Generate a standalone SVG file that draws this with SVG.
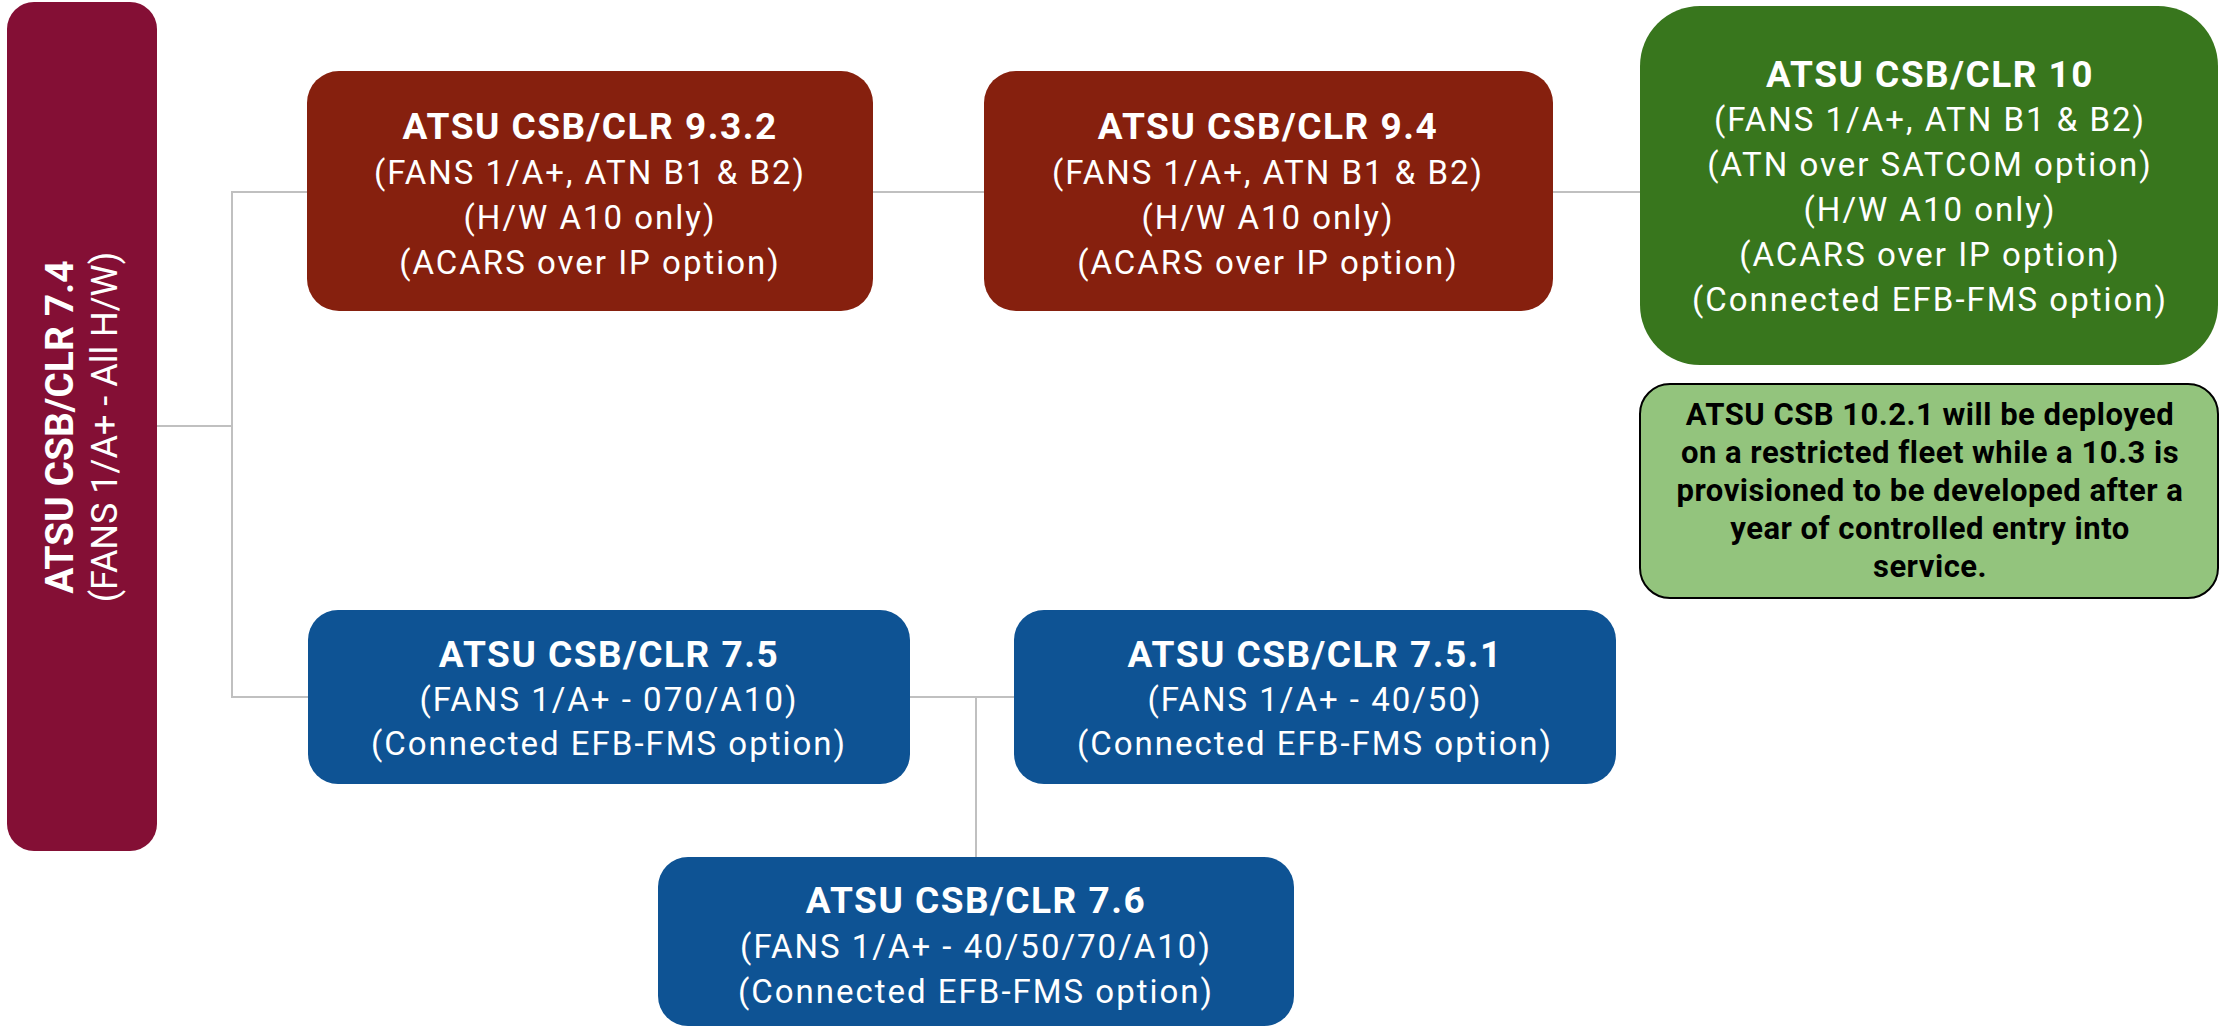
<svg xmlns="http://www.w3.org/2000/svg" width="2220" height="1028" viewBox="0 0 2220 1028">
<style>
.t{font-family:Roboto,"Liberation Sans",sans-serif;fill:#fff;text-anchor:middle}
.b{font-weight:bold;font-size:37px;letter-spacing:1.5px}
.r{font-size:33px;letter-spacing:2px}
.n{font-family:Roboto,"Liberation Sans",sans-serif;fill:#000;text-anchor:middle;font-weight:bold;font-size:31px;letter-spacing:0.5px}
.c{fill:none;stroke:#c0c0c0;stroke-width:2}
</style>
<rect width="2220" height="1028" fill="#fff"/>
<g id="connectors">
<polyline class="c" points="157,426 232,426"/>
<polyline class="c" points="307,192 232,192 232,697 308,697"/>
<line class="c" x1="873" y1="192" x2="984" y2="192"/>
<line class="c" x1="1553" y1="192" x2="1640" y2="192"/>
<line class="c" x1="910" y1="697" x2="1014" y2="697"/>
<line class="c" x1="976" y1="697" x2="976" y2="857"/>
</g>
<g id="node-7-4">
<rect x="7" y="2" width="150" height="849" rx="27" fill="#840f35"/>
<g transform="translate(0,427)">
<text class="t" transform="translate(73,0) rotate(-90)" font-weight="bold" font-size="39">ATSU CSB/CLR 7.4</text>
<text class="t" transform="translate(117,0) rotate(-90)" font-size="36">(FANS 1/A+ - All H/W)</text>
</g>
</g>
<g id="node-9-3-2">
<rect x="307" y="71" width="566" height="240" rx="32" fill="#86200e"/>
<text class="t b" x="590" y="139">ATSU CSB/CLR 9.3.2</text>
<text class="t r" x="590" y="184">(FANS 1/A+, ATN B1 &amp; B2)</text>
<text class="t r" x="590" y="229">(H/W A10 only)</text>
<text class="t r" x="590" y="274">(ACARS over IP option)</text>
</g>
<g id="node-9-4">
<rect x="984" y="71" width="569" height="240" rx="32" fill="#86200e"/>
<text class="t b" x="1268" y="139">ATSU CSB/CLR 9.4</text>
<text class="t r" x="1268" y="184">(FANS 1/A+, ATN B1 &amp; B2)</text>
<text class="t r" x="1268" y="229">(H/W A10 only)</text>
<text class="t r" x="1268" y="274">(ACARS over IP option)</text>
</g>
<g id="node-10">
<rect x="1640" y="6" width="578" height="359" rx="60" fill="#38761d"/>
<text class="t b" x="1930" y="87">ATSU CSB/CLR 10</text>
<text class="t r" x="1930" y="131">(FANS 1/A+, ATN B1 &amp; B2)</text>
<text class="t r" x="1930" y="176">(ATN over SATCOM option)</text>
<text class="t r" x="1930" y="221">(H/W A10 only)</text>
<text class="t r" x="1930" y="266">(ACARS over IP option)</text>
<text class="t r" x="1930" y="311">(Connected EFB-FMS option)</text>
</g>
<g id="note">
<rect x="1640" y="384" width="578" height="214" rx="30" fill="#93c47d" stroke="#000" stroke-width="2"/>
<text class="n" x="1930" y="425">ATSU CSB 10.2.1 will be deployed</text>
<text class="n" x="1930" y="463">on a restricted fleet while a 10.3 is</text>
<text class="n" x="1930" y="501">provisioned to be developed after a</text>
<text class="n" x="1930" y="539">year of controlled entry into</text>
<text class="n" x="1930" y="577">service.</text>
</g>
<g id="node-7-5">
<rect x="308" y="610" width="602" height="174" rx="30" fill="#0e5394"/>
<text class="t b" x="609" y="667">ATSU CSB/CLR 7.5</text>
<text class="t r" x="609" y="711">(FANS 1/A+ - 070/A10)</text>
<text class="t r" x="609" y="755">(Connected EFB-FMS option)</text>
</g>
<g id="node-7-5-1">
<rect x="1014" y="610" width="602" height="174" rx="30" fill="#0e5394"/>
<text class="t b" x="1315" y="667">ATSU CSB/CLR 7.5.1</text>
<text class="t r" x="1315" y="711">(FANS 1/A+ - 40/50)</text>
<text class="t r" x="1315" y="755">(Connected EFB-FMS option)</text>
</g>
<g id="node-7-6">
<rect x="658" y="857" width="636" height="169" rx="30" fill="#0e5394"/>
<text class="t b" x="976" y="913">ATSU CSB/CLR 7.6</text>
<text class="t r" x="976" y="958">(FANS 1/A+ - 40/50/70/A10)</text>
<text class="t r" x="976" y="1003">(Connected EFB-FMS option)</text>
</g>
</svg>
